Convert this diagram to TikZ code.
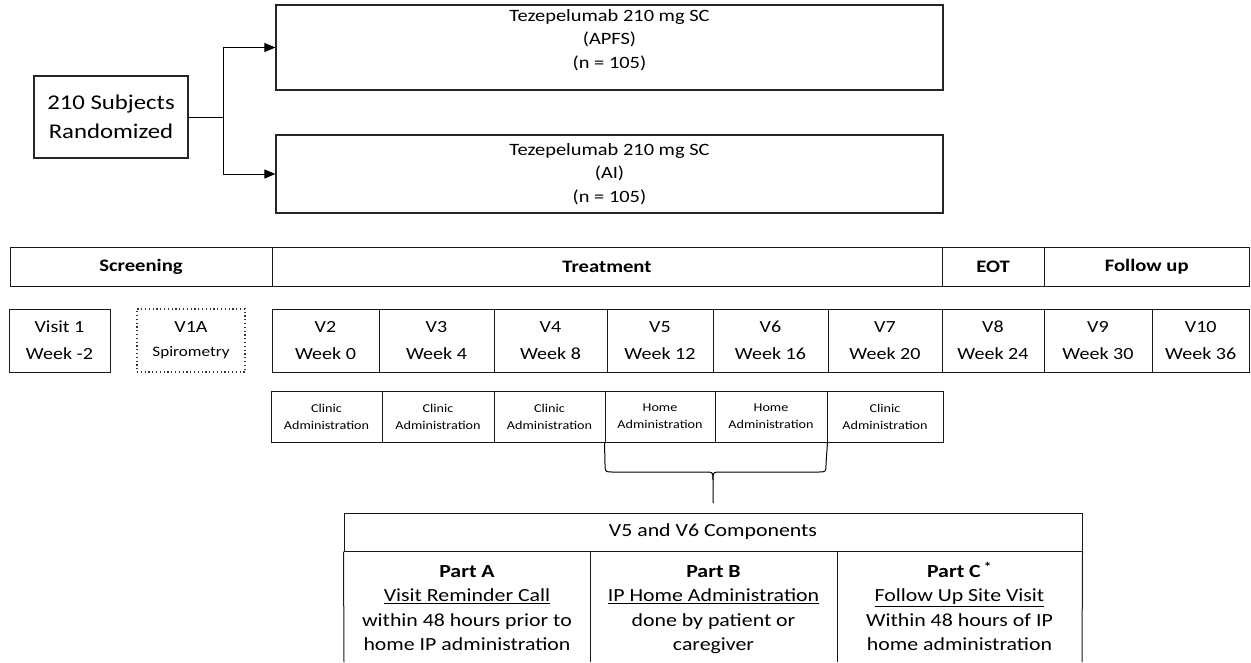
\documentclass[tikz,border=0pt]{standalone}
\usepackage{fontspec}
\setmainfont{Carlito}[FakeStretch=1.18]
\usetikzlibrary{arrows.meta}
\newcommand{\fsz}[2]{\fontsize{#1}{#2}\selectfont}
\begin{document}
\begin{tikzpicture}[x=1pt,y=-1pt,
  box/.style={draw=black!85, line width=1.2pt, inner sep=0pt, align=center},
  cell/.style={draw=black!90, line width=1pt, inner sep=0pt, align=center},
  hdr/.style={cell, minimum height=39pt, font=\bfseries\fsz{17.5}{20}},
  visit/.style={cell, minimum height=63pt, font=\fsz{17}{27}},
  admin/.style={cell, minimum height=51pt, font=\fsz{12}{17}},
  tcol/.style={inner sep=0pt, anchor=north, align=center, font=\fsz{18.5}{24.5}},
  arr/.style={line width=1pt, -{Triangle[length=11pt,width=9pt]}}
]
\useasboundingbox (0,0) rectangle (1251,662);

% --- randomization ---
\node[box, minimum width=154pt, minimum height=82pt, font=\fsz{21}{28.5}] (rand) at (111,117) {210 Subjects\\Randomized};
\node[box, minimum width=667pt, minimum height=85pt] (apfs) at (609.5,47.5) {};
\node[align=center, inner sep=0pt, font=\fsz{17.3}{23.5}] (apfstxt) at (609.5,40) {Tezepelumab 210 mg SC\\(APFS)\\(n = 105)};
\node[box, minimum width=667pt, minimum height=78pt, font=\fsz{17.3}{23.5}] (ai) at (609.5,174) {Tezepelumab 210 mg SC\\(AI)\\(n = 105)};
\coordinate (split) at (223,117);
\draw[line width=1pt] (rand.east) -- (split);
\draw[arr] (split) |- (apfs.west);
\draw[arr] (split) |- (ai.west);

% --- period header ---
\node[hdr, minimum width=262pt] (scr) at (141,266.5) {Screening};
\node[hdr, minimum width=670pt] (trt) at (607,266.5) {Treatment};
\node[hdr, minimum width=102pt] (eot) at (993,266.5) {EOT};
\node[hdr, minimum width=205.5pt] (fu) at (1146.75,266.5) {Follow up};

% --- visits ---
\node[visit, minimum width=101pt] (v1) at (59.5,340.5) {Visit 1\\Week -2};
\node[visit, minimum width=108pt, draw=black!80, line width=1.2pt, dash pattern=on 1.2pt off 2.6pt] (v1a) at (191,340.5) {V1A\\[-3pt]{\fsz{14.5}{17}Spirometry}};
\node[visit, minimum width=107pt] (v2) at (325.5,340.5) {V2\\Week 0};
\node[visit, minimum width=115pt] (v3) at (436.5,340.5) {V3\\Week 4};
\node[visit, minimum width=113pt] (v4) at (550.5,340.5) {V4\\Week 8};
\node[visit, minimum width=106pt] (v5) at (660,340.5) {V5\\Week 12};
\node[visit, minimum width=115pt] (v6) at (770.5,340.5) {V6\\Week 16};
\node[visit, minimum width=114pt] (v7) at (885,340.5) {V7\\Week 20};
\node[visit, minimum width=102pt] (v8) at (993,340.5) {V8\\Week 24};
\node[visit, minimum width=108pt] (v9) at (1098,340.5) {V9\\Week 30};
\node[visit, minimum width=97.5pt] (v10) at (1200.75,340.5) {V10\\Week 36};

% --- administration ---
\node[admin, minimum width=111pt] (a2) at (326.5,416.5) {Clinic\\Administration};
\node[admin, minimum width=112pt] (a3) at (438,416.5) {Clinic\\Administration};
\node[admin, minimum width=111pt] (a4) at (549.5,416.5) {Clinic\\Administration};
\node[admin, minimum width=110pt] (a5) at (660,416.5) {Home\\Administration};
\node[admin, minimum width=112pt] (a6) at (771,416.5) {Home\\Administration};
\node[admin, minimum width=116pt] (a7) at (885,416.5) {Clinic\\Administration};

% --- brace ---
\coordinate (bcusp) at (713,480);
\coordinate (btip) at (713,503);
\draw[line width=1pt] (a5.south west) -- (605,464) .. controls (605,472) .. (613,472) -- (705,472) .. controls (713,472) .. (bcusp) -- (btip);
\draw[line width=1pt] (a6.south east) -- (826,464) .. controls (826,472) .. (818,472) -- (721,472) .. controls (713,472) .. (bcusp);

% --- components table ---
\node[cell, minimum width=738pt, minimum height=38pt, font=\fsz{18.5}{24.5}] (comp) at (713,532) {V5 and V6 Components};
\draw[line width=1pt, black!90] (comp.south west) -- (344,662);
\draw[line width=1pt, black!90] (comp.south east) -- (1082,662);
\draw[line width=1pt, black!90] (590,551) -- (590,662);
\draw[line width=1pt, black!90] (837,551) -- (837,662);
\node[tcol] (pa) at (467,560) {\strut\textbf{Part A}\\\underline{Visit Reminder Call}\\within 48 hours prior to\\home IP administration};
\node[tcol] (pb) at (713.5,560) {\strut\textbf{Part B}\\\underline{IP Home Administration}\\done by patient or\\caregiver};
\node[tcol] (pc) at (959.5,560) {\strut\textbf{Part C\,\textsuperscript{*}}\\\underline{Follow Up Site Visit}\\Within 48 hours of IP\\home administration};
\end{tikzpicture}
\end{document}
